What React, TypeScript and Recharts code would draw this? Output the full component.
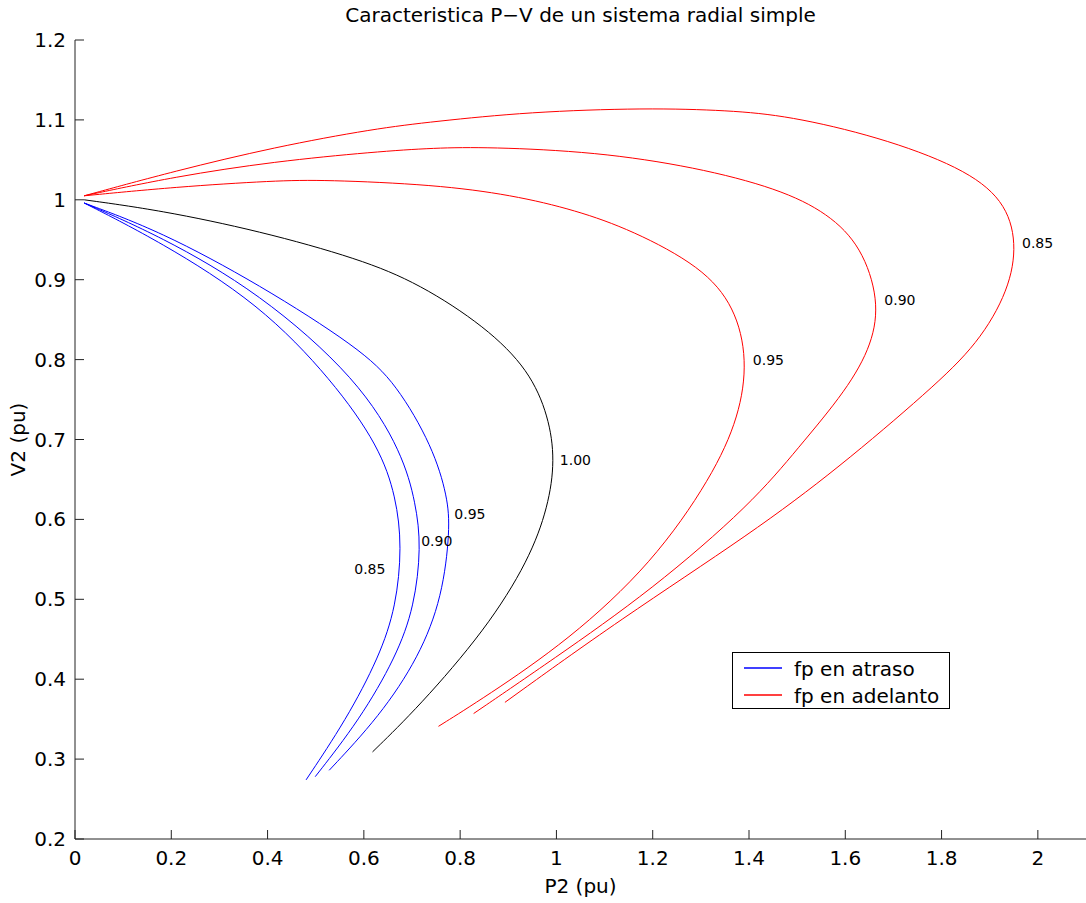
import { ComposedChart, Line, Scatter, XAxis, YAxis, Legend } from "recharts";

const FONT = "'DejaVu Sans', sans-serif";

const xTicks = [0, 0.2, 0.4, 0.6, 0.8, 1, 1.2, 1.4, 1.6, 1.8, 2];
const yTicks = [0.2, 0.3, 0.4, 0.5, 0.6, 0.7, 0.8, 0.9, 1, 1.1, 1.2];

// [P2, V2] pairs, from the no-load end to the low-voltage end
const lag085: [number, number][] = [
  [0.019, 0.996], [0.176, 0.948], [0.383, 0.87], [0.535, 0.774], [0.632, 0.691],
  [0.667, 0.628], [0.679, 0.566], [0.667, 0.491], [0.632, 0.428], [0.563, 0.349],
  [0.48, 0.274],
];
const lag090: [number, number][] = [
  [0.019, 0.996], [0.176, 0.955], [0.383, 0.884], [0.589, 0.775], [0.68, 0.683],
  [0.708, 0.62], [0.719, 0.566], [0.705, 0.491], [0.667, 0.428], [0.591, 0.349],
  [0.499, 0.278],
];
const lag095: [number, number][] = [
  [0.019, 0.996], [0.176, 0.961], [0.383, 0.894], [0.591, 0.814], [0.667, 0.77],
  [0.743, 0.691], [0.774, 0.628], [0.779, 0.587], [0.763, 0.503], [0.715, 0.428],
  [0.632, 0.353], [0.528, 0.286],
];
const unity100: [number, number][] = [
  [0.019, 1.0], [0.176, 0.987], [0.383, 0.961], [0.591, 0.926], [0.715, 0.895],
  [0.853, 0.841], [0.943, 0.787], [0.984, 0.729], [0.997, 0.674], [0.983, 0.616],
  [0.943, 0.549], [0.853, 0.462], [0.715, 0.366], [0.618, 0.309],
];
const lead095: [number, number][] = [
  [0.019, 1.005], [0.207, 1.016], [0.415, 1.024], [0.518, 1.025], [0.746, 1.019],
  [0.908, 1.006], [1.04, 0.987], [1.157, 0.962], [1.302, 0.916], [1.371, 0.866],
  [1.397, 0.8], [1.38, 0.729], [1.323, 0.653], [1.199, 0.545], [1.026, 0.449],
  [0.853, 0.378], [0.755, 0.341],
];
const lead090: [number, number][] = [
  [0.019, 1.005], [0.207, 1.029], [0.415, 1.048], [0.622, 1.06], [0.746, 1.065],
  [0.86, 1.066], [1.081, 1.06], [1.288, 1.041], [1.461, 1.014], [1.565, 0.983],
  [1.634, 0.941], [1.67, 0.875], [1.657, 0.82], [1.603, 0.762], [1.503, 0.69],
  [1.406, 0.62], [1.199, 0.512], [0.991, 0.424], [0.828, 0.357],
];
const lead085: [number, number][] = [
  [0.019, 1.005], [0.207, 1.036], [0.415, 1.066], [0.622, 1.089], [0.746, 1.098],
  [0.943, 1.11], [1.185, 1.115], [1.358, 1.112], [1.482, 1.105], [1.668, 1.079],
  [1.841, 1.041], [1.931, 1.0], [1.957, 0.946], [1.94, 0.887], [1.876, 0.82],
  [1.776, 0.762], [1.585, 0.664], [1.406, 0.583], [1.13, 0.474], [0.893, 0.371],
];

const curveLabels = [
  { p: 0.58, v: 0.538, text: "0.85" },
  { p: 0.719, v: 0.573, text: "0.90" },
  { p: 0.788, v: 0.607, text: "0.95" },
  { p: 1.007, v: 0.674, text: "1.00" },
  { p: 1.408, v: 0.799, text: "0.95" },
  { p: 1.681, v: 0.874, text: "0.90" },
  { p: 1.967, v: 0.946, text: "0.85" },
];

const legendItems = [
  { name: "fp en atraso", color: "#0000ff" },
  { name: "fp en adelanto", color: "#ff0000" },
];

const series = [
  { key: "lag085", pts: lag085, color: "#0000ff" },
  { key: "lag090", pts: lag090, color: "#0000ff" },
  { key: "lag095", pts: lag095, color: "#0000ff" },
  { key: "unity100", pts: unity100, color: "#000000" },
  { key: "lead095", pts: lead095, color: "#ff0000" },
  { key: "lead090", pts: lead090, color: "#ff0000" },
  { key: "lead085", pts: lead085, color: "#ff0000" },
];

const toPoints = (pts: [number, number][]) => pts.map(([p, v]) => ({ p, v }));

const AXIS_COLOR = "#222";

const XTick = (props: any) => {
  const { x, y, payload } = props;
  return (
    <g>
      <line x1={x} x2={x} y1={y} y2={y - 9} stroke={AXIS_COLOR} />
      <text x={x} y={y + 26} textAnchor="middle" fontSize={20} fontFamily={FONT} fill="#000">
        {String(payload.value)}
      </text>
    </g>
  );
};

const YTick = (props: any) => {
  const { x, y, payload } = props;
  return (
    <g>
      <line x1={x} x2={x + 9} y1={y} y2={y} stroke={AXIS_COLOR} />
      <text x={x - 9} y={y + 7} textAnchor="end" fontSize={20} fontFamily={FONT} fill="#000">
        {String(payload.value)}
      </text>
    </g>
  );
};

const renderCurveLabel = (props: any) => (
  <text x={props.cx} y={props.cy + 5} fontSize={14} fontFamily={FONT} fill="#000">
    {props.payload.text}
  </text>
);

const renderLegend = () => (
  <div
    style={{
      position: "relative",
      width: 218,
      height: 57,
      boxSizing: "border-box",
      border: "1px solid #000",
      background: "#fff",
      fontFamily: FONT,
      fontSize: 20,
      color: "#000",
    }}
  >
    {legendItems.map((item, i) => (
      <div key={item.name}>
        <div
          style={{
            position: "absolute",
            left: 11,
            top: 14 + i * 26.6,
            width: 38,
            height: 2,
            backgroundColor: item.color,
            opacity: 0.75,
          }}
        />
        <div
          style={{
            position: "absolute",
            left: 61,
            top: 4 + i * 26.6,
            lineHeight: "24px",
            whiteSpace: "nowrap",
          }}
        >
          {item.name}
        </div>
      </div>
    ))}
  </div>
);

export default function App() {
  return (
    <div style={{ position: "absolute", left: 0, top: 0, width: 1086, height: 903, background: "#fff" }}>
      <div
        style={{
          position: "absolute",
          left: 75,
          top: 3,
          width: 1011,
          textAlign: "center",
          fontFamily: FONT,
          fontSize: 20,
          lineHeight: "24px",
        }}
      >
        Caracteristica P−V de un sistema radial simple
      </div>
      <ComposedChart width={1086} height={903} margin={{ top: 40, right: 0, bottom: 0, left: 0 }}>
        <XAxis
          type="number"
          dataKey="p"
          domain={[0, 2.1]}
          ticks={xTicks}
          height={64}
          tickSize={0}
          tickMargin={0}
          tickLine={false}
          tick={<XTick />}
          stroke={AXIS_COLOR}
          allowDataOverflow
          label={{
            content: (props: any) => {
              const vb = props.viewBox;
              return (
                <text
                  x={vb.x + vb.width / 2}
                  y={vb.y + 54}
                  textAnchor="middle"
                  fontSize={20}
                  fontFamily={FONT}
                  fill="#000"
                >
                  P2 (pu)
                </text>
              );
            },
          }}
        />
        <YAxis
          type="number"
          dataKey="v"
          domain={[0.2, 1.2]}
          ticks={yTicks}
          width={75}
          tickSize={0}
          tickMargin={0}
          tickLine={false}
          tick={<YTick />}
          stroke={AXIS_COLOR}
          allowDataOverflow
          label={{
            content: (props: any) => {
              const vb = props.viewBox;
              const cx = vb.x + 25;
              const cy = vb.y + vb.height / 2;
              return (
                <text
                  x={cx}
                  y={cy}
                  transform={`rotate(-90 ${cx} ${cy})`}
                  textAnchor="middle"
                  fontSize={20}
                  fontFamily={FONT}
                  fill="#000"
                >
                  V2 (pu)
                </text>
              );
            },
          }}
        />
        {series.map((s) => (
          <Line
            key={s.key}
            data={toPoints(s.pts)}
            dataKey="v"
            type="basis"
            stroke={s.color}
            strokeWidth={1}
            dot={false}
            activeDot={false}
            isAnimationActive={false}
          />
        ))}
        <Scatter
          data={curveLabels}
          dataKey="v"
          shape={renderCurveLabel}
          isAnimationActive={false}
          legendType="none"
        />
        <Legend
          layout="vertical"
          align="center"
          verticalAlign="middle"
          content={renderLegend}
          wrapperStyle={{ left: 732, top: 652, width: 218, height: 57 }}
        />
      </ComposedChart>
    </div>
  );
}
